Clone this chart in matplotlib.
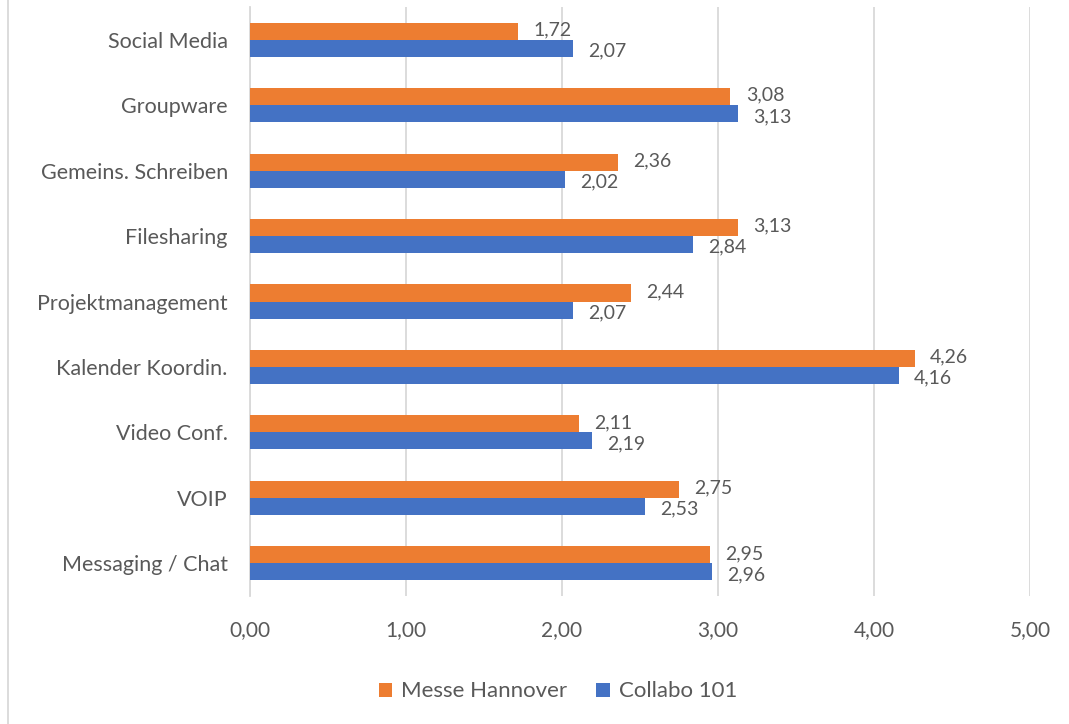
import numpy as np
import matplotlib
matplotlib.use('Agg')
import matplotlib.pyplot as plt
from matplotlib.patches import Rectangle

# Data (bottom to top)
categories = ['Messaging / Chat', 'VOIP', 'Video Conf.', 'Kalender Koordin.',
              'Projektmanagement', 'Filesharing', 'Gemeins. Schreiben',
              'Groupware', 'Social Media']
messe = [2.95, 2.75, 2.11, 4.26, 2.44, 3.13, 2.36, 3.08, 1.72]
collabo = [2.96, 2.53, 2.19, 4.16, 2.07, 2.84, 2.02, 3.13, 2.07]

orange = '#ED7D31'
blue = '#4472C4'
txt = '#595959'

plt.rcParams['font.family'] = ['Lato', 'DejaVu Sans']

fig = plt.figure(figsize=(10.69, 7.24), dpi=100)
ax = fig.add_axes([0.2339, 0.1768, 0.7296, 0.8135])

y = np.arange(len(categories))
h = 0.26
b1 = ax.barh(y + h / 2, messe, height=h, color=orange, label='Messe Hannover', zorder=3)
b2 = ax.barh(y - h / 2, collabo, height=h, color=blue, label='Collabo 101', zorder=3)

def fmt(v):
    return ('%.2f' % v).replace('.', ',')

for yy, v in zip(y, messe):
    ax.annotate(fmt(v), (v, yy + h / 2), xytext=(11, 1), textcoords='offset points',
                va='center', ha='left', fontsize=14, color=txt)
for yy, v in zip(y, collabo):
    ax.annotate(fmt(v), (v, yy - h / 2), xytext=(11, -2), textcoords='offset points',
                va='center', ha='left', fontsize=14, color=txt)

ax.set_xlim(0, 5)
ax.set_ylim(-0.5, len(categories) - 0.5)
ax.set_xticks(np.arange(0, 6))
ax.set_xticklabels([fmt(v) for v in range(6)], fontsize=15, color=txt)
ax.set_yticks(y)
ax.set_yticklabels(categories, fontsize=15.5, color=txt)
ax.tick_params(axis='both', length=0)
ax.tick_params(axis='x', pad=17)
ax.tick_params(axis='y', pad=16)
ax.grid(axis='x', color='#d9d9d9', linewidth=1.3, zorder=0)
for s in ['top', 'right', 'bottom']:
    ax.spines[s].set_visible(False)
ax.spines['left'].set_color('#d9d9d9')
ax.spines['left'].set_linewidth(1.3)

fig.legend(handles=[b1, b2], loc='center', bbox_to_anchor=(0.522, 0.045), ncol=2,
           frameon=False, fontsize=16, labelcolor=txt, handlelength=0.6,
           handleheight=0.6, handletextpad=0.4, columnspacing=1.3)

fig.patches.append(Rectangle((0.0075, -0.01), 1.1, 1.1, transform=fig.transFigure,
                             fill=False, edgecolor='#d9d9d9', linewidth=1.3))

fig.savefig('out.png', dpi=100)
